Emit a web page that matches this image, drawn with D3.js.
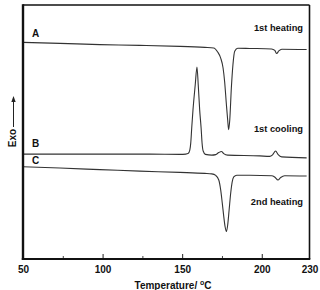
<!DOCTYPE html>
<html>
<head>
<meta charset="utf-8">
<script src="https://cdn.jsdelivr.net/npm/d3@7"></script>
<style>
    body { margin: 0; background: #fff; }
    text { font-family: "Liberation Sans", Arial, sans-serif; font-weight: bold; fill: #111; }
</style>
</head>
<body>
<div id="chart"></div>
<script>
// DSC traces, temperature in deg C, heat flow in arbitrary units (0 = bottom, 100 = top)
const tempA = [50, 73.2, 98.3, 123.4, 148.5, 164.2, 169.8, 172.3, 174.2, 175.7, 176.7, 177.8, 178.6, 179.2, 179.9, 180.9, 181.9, 183.0, 184.9, 192.4, 206.2, 208.2, 209.4, 210.7, 212.6, 228.2];
const sigA  = [85.3, 84.9, 84.4, 84.1, 83.7, 83.3, 83.1, 81.5, 79.1, 75.2, 69.7, 60.7, 54.7, 50.9, 54.7, 67.3, 76.5, 81.8, 83.0, 82.9, 82.7, 82.1, 80.9, 81.9, 82.6, 82.5];

const tempB = [50, 98.3, 129.7, 148.5, 152.3, 153.7, 154.8, 155.4, 156.0, 156.8, 158.2, 159.3, 160.1, 161.0, 161.9, 162.5, 163.2, 164.6, 168.6, 171.1, 173.0, 174.7, 176.1, 178.6, 198.7, 205.0, 206.8, 208.7, 210.3, 212.5, 228.2];
const sigB  = [41.3, 41.3, 41.3, 41.2, 41.3, 41.5, 42.9, 45.7, 51.6, 58.7, 68.5, 75.6, 68.5, 58.7, 51.6, 45.7, 42.5, 41.2, 40.9, 41.1, 41.9, 42.3, 41.5, 40.9, 40.6, 40.4, 41.0, 42.5, 41.1, 40.2, 39.8];

const tempC = [50, 73.2, 98.3, 123.4, 148.5, 164.2, 168.6, 171.1, 173.0, 174.2, 175.2, 176.1, 177.0, 177.8, 178.6, 179.5, 180.5, 181.4, 182.4, 184.3, 192.4, 206.2, 208.1, 210.2, 211.9, 214.4, 228.2];
const sigC  = [36.3, 35.8, 35.2, 34.6, 34.1, 33.7, 33.5, 32.9, 31.1, 27.2, 22.0, 16.9, 12.6, 10.8, 13.4, 19.3, 26.0, 30.3, 32.3, 33.0, 33.0, 32.8, 32.3, 31.1, 32.1, 32.8, 32.7];

const xTicks = [50, 100, 150, 200, 230];
const xMinorTicks = [75, 125, 175];
const traceLetters = ['A', 'B', 'C'];
const runLabels = ['1st heating', '1st cooling', '2nd heating'];

class DscChart {
    constructor(_config) {
        this.config = {
            parentElement: _config.parentElement,
            containerWidth: _config.containerWidth || 320,
            containerHeight: _config.containerHeight || 290
        };
        this.initVis();
    }

    initVis() {
        let vis = this;

        vis.svg = d3.select(vis.config.parentElement)
            .append('svg')
            .attr('width', vis.config.containerWidth)
            .attr('height', vis.config.containerHeight);

        vis.xScale = d3.scaleLinear().domain([50, 230]).range([23, 309.5]);
        vis.yScale = d3.scaleLinear().domain([0, 100]).range([259, 5]);

        vis.line = d3.line()
            .x(d => vis.xScale(d[0]))
            .y(d => vis.yScale(d[1]))
            .curve(d3.curveMonotoneX);

        vis.renderVis();
    }

    renderVis() {
        let vis = this;
        const x = vis.xScale, y = vis.yScale;

        const traces = [
            d3.zip(tempA, sigA),
            d3.zip(tempB, sigB),
            d3.zip(tempC, sigC)
        ];

        vis.svg.selectAll('.trace')
            .data(traces)
            .enter().append('path')
            .attr('class', 'trace')
            .attr('d', vis.line)
            .attr('fill', 'none')
            .attr('stroke', '#333')
            .attr('stroke-width', 1.1);

        // frame
        const x0 = x(50), x1 = x(230), y0 = y(0), y1 = y(100);
        vis.svg.append('line').attr('x1', x0).attr('x2', x1).attr('y1', y1).attr('y2', y1)
            .attr('stroke', '#111').attr('stroke-width', 1.6);
        vis.svg.append('line').attr('x1', x1).attr('x2', x1).attr('y1', y1).attr('y2', y0)
            .attr('stroke', '#111').attr('stroke-width', 1.6);

        // bottom axis, ticks pointing inward
        const xAxis = vis.svg.append('g')
            .attr('transform', `translate(0,${y0})`)
            .call(d3.axisBottom(x).tickValues(xTicks).tickSize(-5).tickPadding(7));
        xAxis.select('.domain').remove();
        xAxis.selectAll('.tick line')
            .attr('stroke', '#222')
            .attr('stroke-width', d => (d === 50 || d === 230) ? 0 : 1);
        xAxis.selectAll('.tick text')
            .attr('font-size', '10px')
            .attr('font-family', '"Liberation Sans", Arial, sans-serif')
            .attr('font-weight', 'bold')
            .attr('fill', '#111');

        const minorAxis = vis.svg.append('g')
            .attr('transform', `translate(0,${y0})`)
            .call(d3.axisBottom(x).tickValues(xMinorTicks).tickSize(-3).tickFormat(''));
        minorAxis.select('.domain').remove();
        minorAxis.selectAll('.tick line').attr('stroke', '#444');

        vis.svg.append('line').attr('x1', x0).attr('x2', x0).attr('y1', y1 - 0.8).attr('y2', y0 + 1)
            .attr('stroke', '#111').attr('stroke-width', 2.4);
        vis.svg.append('line').attr('x1', x0 - 1.2).attr('x2', x1 + 0.8).attr('y1', y0).attr('y2', y0)
            .attr('stroke', '#111').attr('stroke-width', 2.2);

        // trace letters at the left
        const letterY = [37, 147, 164];
        vis.svg.selectAll('.letter')
            .data(traceLetters)
            .enter().append('text')
            .attr('class', 'letter')
            .attr('x', 32)
            .attr('y', (d, i) => letterY[i])
            .attr('font-size', '10px')
            .text(d => d);

        // run labels at the right
        const runY = [30.5, 131.5, 205];
        vis.svg.selectAll('.run')
            .data(runLabels)
            .enter().append('text')
            .attr('class', 'run')
            .attr('x', 303)
            .attr('y', (d, i) => runY[i])
            .attr('text-anchor', 'end')
            .attr('font-size', '9.3px')
            .text(d => d);

        // x label
        const xl = vis.svg.append('text')
            .attr('x', 173)
            .attr('y', 289)
            .attr('text-anchor', 'middle')
            .attr('font-size', '10px');
        xl.append('tspan').text('Temperature/ ');
        xl.append('tspan').attr('font-size', '7px').attr('dy', -4).text('o');
        xl.append('tspan').attr('dy', 4).text('C');

        // Exo arrow on the left
        vis.svg.append('text')
            .attr('transform', 'translate(16,138) rotate(-90)')
            .attr('text-anchor', 'middle')
            .attr('font-size', '10px')
            .text('Exo');
        vis.svg.append('line')
            .attr('x1', 13.5).attr('x2', 13.5).attr('y1', 127).attr('y2', 100)
            .attr('stroke', '#222').attr('stroke-width', 1);
        vis.svg.append('path')
            .attr('d', 'M13.5,96 L11.3,102 L15.7,102 Z')
            .attr('fill', '#222');
    }
}

new DscChart({ parentElement: '#chart' });
</script>
</body>
</html>
